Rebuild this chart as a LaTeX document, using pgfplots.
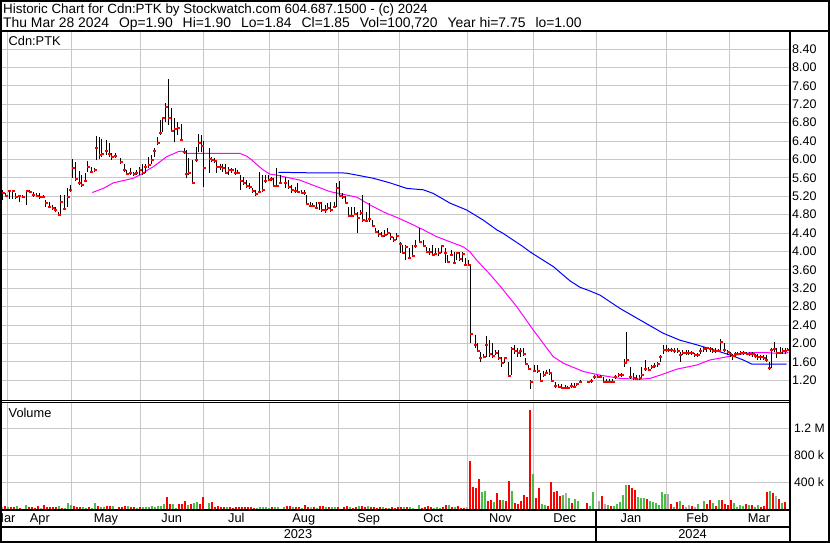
\documentclass[border=0pt]{standalone}
\usepackage{fontspec}
\setmainfont{Liberation Sans}
\usepackage{pgfplots}
\usepackage{pgfplotstable}
\pgfplotsset{compat=1.18}

\definecolor{gridgray}{RGB}{200,200,200}
\definecolor{volred}{RGB}{255,0,0}
\definecolor{volgreen}{RGB}{76,187,71}
\definecolor{volgray}{RGB}{170,170,170}
\definecolor{maline}{RGB}{255,0,255}
\definecolor{blueline}{RGB}{0,0,255}

% daily bars: x = position on the trading-day axis, h/l/c = high, low, close
\pgfplotstableread{
x h l c
2.7 5.34 5.12 5.28
6.0 5.26 5.18 5.20
9.3 5.34 5.15 5.32
12.7 5.34 5.15 5.31
16.0 5.26 5.15 5.19
19.3 5.23 5.08 5.21
22.7 5.23 5.18 5.19
26.7 5.34 5.01 5.32
30.0 5.34 5.28 5.30
33.3 5.30 5.19 5.23
36.7 5.26 5.19 5.21
40.0 5.26 5.15 5.19
43.3 5.23 5.17 5.19
46.0 5.12 4.97 5.06
49.0 5.08 4.94 4.97
52.3 5.01 4.91 4.95
55.0 4.97 4.86 4.90
58.3 4.86 4.77 4.79
60.7 5.23 4.79 5.08
64.0 5.23 4.90 4.92
67.3 5.37 4.97 5.19
70.0 5.44 5.30 5.34
72.7 6.00 5.59 5.81
75.7 5.94 5.52 5.57
79.0 5.75 5.44 5.49
81.7 5.66 5.41 5.44
85.0 5.70 5.52 5.54
87.7 5.97 5.73 5.84
91.0 5.84 5.70 5.73
94.3 5.81 5.72 5.76
96.0 6.51 5.99 6.24
99.3 6.48 6.00 6.10
101.7 6.44 6.06 6.11
106.0 6.42 6.10 6.19
109.0 6.35 6.06 6.12
111.7 6.15 5.99 6.05
115.0 6.13 6.02 6.07
120.7 6.02 5.91 5.95
124.0 5.91 5.73 5.78
126.7 5.77 5.66 5.68
130.0 5.81 5.66 5.71
133.3 5.73 5.64 5.68
136.0 5.76 5.66 5.70
139.3 5.84 5.66 5.77
142.3 5.91 5.66 5.71
145.0 5.90 5.70 5.84
148.3 6.06 5.81 5.88
151.7 6.10 5.91 5.99
154.0 6.24 6.06 6.19
157.3 6.49 6.31 6.36
160.0 6.86 6.53 6.57
162.7 6.93 6.60 6.89
165.7 7.23 6.82 7.15
168.3 7.75 6.75 6.89
171.7 7.11 6.60 6.62
174.3 6.89 6.37 6.66
177.7 6.82 6.53 6.68
181.0 6.78 6.39 6.42
184.0 6.24 6.12 6.16
186.0 6.20 5.59 5.68
188.7 6.02 5.66 5.71
192.3 5.99 5.47 5.49
196.0 6.28 5.95 5.99
198.7 6.55 6.17 6.35
201.7 6.53 6.17 6.29
203.3 6.39 5.41 5.82
209.3 6.24 5.70 6.00
211.7 6.06 5.95 5.99
214.3 6.02 5.93 5.97
216.7 5.95 5.71 5.84
220.0 5.90 5.78 5.84
222.7 5.91 5.73 5.81
225.7 5.90 5.70 5.71
228.3 5.84 5.66 5.77
231.7 5.81 5.70 5.77
235.0 5.81 5.66 5.71
237.7 5.76 5.68 5.71
240.7 5.66 5.34 5.53
243.3 5.62 5.44 5.49
246.7 5.55 5.37 5.42
249.3 5.48 5.35 5.39
252.3 5.37 5.26 5.31
255.7 5.34 5.20 5.24
259.0 5.73 5.26 5.30
262.3 5.66 5.30 5.34
265.0 5.66 5.48 5.54
268.3 5.66 5.52 5.55
271.0 5.62 5.54 5.57
273.3 5.59 5.41 5.42
276.7 5.81 5.39 5.42
280.0 5.66 5.47 5.49
285.0 5.62 5.37 5.49
288.3 5.55 5.35 5.39
291.7 5.44 5.26 5.34
295.0 5.41 5.26 5.32
297.7 5.48 5.26 5.30
301.7 5.34 5.26 5.28
304.0 5.34 5.23 5.26
306.7 5.23 5.01 5.03
310.0 5.08 4.97 4.99
312.7 5.05 4.97 4.99
316.0 5.08 4.94 4.95
319.0 5.08 4.90 5.05
321.7 5.08 4.86 4.90
325.0 5.01 4.83 4.89
327.7 5.05 4.90 4.95
330.7 5.08 4.86 4.90
334.0 5.08 4.94 4.97
336.7 5.48 4.97 5.37
339.3 5.52 5.19 5.20
342.7 5.26 5.15 5.19
345.7 5.20 5.03 5.06
348.3 4.97 4.76 4.78
351.7 4.97 4.76 4.78
354.3 4.97 4.79 4.81
357.7 4.86 4.39 4.73
360.7 4.90 4.79 4.83
362.7 5.23 4.65 4.68
366.0 4.86 4.65 4.67
369.0 5.05 4.65 4.70
372.3 4.68 4.52 4.55
375.7 4.50 4.39 4.43
378.3 4.47 4.32 4.38
381.7 4.43 4.31 4.34
384.3 4.47 4.32 4.36
387.7 4.50 4.36 4.41
390.7 4.39 4.25 4.32
393.3 4.32 4.21 4.25
396.7 4.39 4.25 4.34
400.0 4.21 3.96 4.16
402.7 4.14 3.94 3.97
405.7 4.14 3.81 4.09
409.0 4.07 3.83 3.85
412.3 4.14 3.87 3.90
415.0 4.25 4.07 4.12
419.3 4.50 4.18 4.21
423.3 4.25 4.09 4.12
426.7 4.10 3.96 3.99
429.3 4.07 3.92 3.99
432.3 4.14 3.90 3.92
435.0 4.07 3.92 3.94
438.3 4.07 3.90 3.96
441.7 4.14 3.96 4.12
445.0 4.07 3.74 3.96
447.3 3.92 3.74 3.78
451.0 4.03 3.89 3.92
454.0 3.99 3.72 3.74
456.7 3.99 3.81 3.96
459.3 3.99 3.80 3.83
462.3 3.99 3.78 3.94
465.0 3.85 3.68 3.70
468.3 3.81 3.68 3.70
470.7 3.72 2.00 2.20
475.0 2.18 1.89 1.97
477.7 2.00 1.82 1.84
480.0 1.82 1.59 1.68
483.3 1.77 1.68 1.71
486.0 2.16 1.71 1.97
489.3 2.07 1.71 1.77
492.3 2.00 1.68 1.73
495.7 1.86 1.75 1.80
498.3 1.86 1.64 1.68
501.7 1.71 1.49 1.58
504.3 1.71 1.57 1.69
508.3 1.60 1.28 1.30
511.7 1.93 1.31 1.87
514.3 1.97 1.78 1.84
517.3 1.89 1.71 1.80
520.0 1.91 1.71 1.84
523.3 1.89 1.73 1.76
525.7 1.68 1.53 1.55
528.3 1.53 1.42 1.44
530.7 1.20 1.00 1.17
534.0 1.53 1.39 1.41
537.3 1.53 1.35 1.39
540.7 1.36 1.17 1.19
543.3 1.39 1.28 1.31
546.0 1.42 1.33 1.36
549.3 1.44 1.31 1.36
551.7 1.35 1.17 1.19
555.0 1.17 1.04 1.07
558.3 1.12 1.04 1.06
561.7 1.12 1.02 1.04
565.0 1.10 1.02 1.04
567.7 1.07 1.00 1.02
571.0 1.13 1.04 1.07
574.0 1.13 1.04 1.06
576.7 1.15 1.07 1.12
580.0 1.20 1.13 1.17
587.7 1.19 1.13 1.17
591.0 1.22 1.15 1.19
594.0 1.31 1.22 1.26
597.3 1.31 1.24 1.28
600.0 1.31 1.24 1.26
603.3 1.28 1.13 1.17
606.7 1.22 1.13 1.17
609.3 1.22 1.13 1.17
612.7 1.22 1.13 1.17
615.0 1.31 1.22 1.28
618.3 1.35 1.28 1.31
621.7 1.36 1.28 1.31
624.3 1.67 1.49 1.58
626.7 2.25 1.57 1.65
630.0 1.48 1.22 1.26
633.3 1.35 1.20 1.24
636.0 1.31 1.20 1.22
639.3 1.31 1.20 1.24
641.7 1.49 1.28 1.31
645.0 1.64 1.39 1.44
648.3 1.49 1.39 1.42
651.7 1.53 1.44 1.48
654.0 1.57 1.46 1.51
657.3 1.60 1.49 1.55
660.0 1.75 1.60 1.71
663.3 1.97 1.78 1.86
666.0 1.97 1.82 1.86
668.3 1.89 1.82 1.86
671.0 1.89 1.82 1.86
674.0 1.89 1.80 1.83
677.3 1.89 1.80 1.84
680.0 1.82 1.60 1.75
682.7 1.86 1.75 1.80
686.0 1.86 1.75 1.80
688.3 1.86 1.75 1.80
691.7 1.84 1.75 1.80
694.3 1.80 1.71 1.75
697.3 1.80 1.71 1.75
700.0 1.89 1.78 1.84
703.3 1.93 1.82 1.87
706.7 1.93 1.82 1.89
710.0 1.93 1.82 1.87
712.7 1.89 1.80 1.84
715.7 1.89 1.80 1.84
718.3 1.87 1.81 1.84
720.7 2.09 1.82 2.04
724.0 2.00 1.82 1.86
727.3 1.86 1.75 1.82
730.0 1.82 1.70 1.77
732.7 1.78 1.65 1.73
735.0 1.82 1.71 1.77
737.3 1.82 1.75 1.78
740.7 1.84 1.75 1.80
743.3 1.84 1.75 1.80
746.7 1.82 1.75 1.78
749.3 1.82 1.73 1.78
752.3 1.82 1.71 1.77
755.0 1.78 1.68 1.73
757.7 1.77 1.65 1.71
760.7 1.75 1.65 1.70
763.3 1.75 1.64 1.68
766.0 1.75 1.60 1.65
769.0 1.60 1.42 1.46
771.0 1.89 1.46 1.86
774.0 2.04 1.82 1.87
776.7 1.89 1.68 1.80
780.0 1.93 1.77 1.80
782.7 1.89 1.78 1.83
785.0 1.89 1.78 1.84
787.7 1.90 1.84 1.85
}\price

% moving averages
\pgfplotstableread{
x m
92.3 5.28
103.3 5.37
113.3 5.49
123.3 5.54
133.3 5.59
143.3 5.70
148.3 5.78
153.3 5.84
160.0 5.95
166.7 6.06
173.3 6.12
178.3 6.17
181.7 6.18
186.7 6.13
190.0 6.13
240.0 6.13
246.7 6.07
251.7 5.99
256.7 5.89
263.3 5.77
270.0 5.68
276.7 5.66
286.7 5.61
300.0 5.55
303.3 5.52
316.7 5.41
330.0 5.30
343.3 5.24
356.7 5.18
370.0 5.01
383.3 4.86
396.7 4.74
410.0 4.61
423.3 4.47
436.7 4.32
450.0 4.21
463.3 4.10
470.0 3.99
476.7 3.81
490.0 3.50
500.0 3.25
510.0 2.98
516.7 2.80
533.3 2.29
543.3 2.00
553.3 1.71
563.3 1.57
583.3 1.39
600.0 1.31
620.0 1.24
640.0 1.22
650.0 1.24
660.0 1.31
676.7 1.44
696.7 1.53
710.0 1.64
720.0 1.68
736.7 1.75
750.0 1.80
766.7 1.80
780.0 1.78
788.3 1.80
}\mashort

\pgfplotstableread{
x m
278.3 5.72
306.7 5.71
340.0 5.71
346.7 5.70
356.7 5.66
373.3 5.59
390.0 5.49
406.7 5.37
423.3 5.34
433.3 5.26
450.0 5.05
466.7 4.90
483.3 4.68
496.7 4.47
503.3 4.39
523.3 4.10
530.0 3.99
553.3 3.67
570.0 3.36
580.0 3.22
590.0 3.14
600.0 3.05
620.0 2.76
640.0 2.51
663.3 2.22
680.0 2.07
696.7 1.97
713.3 1.86
730.0 1.75
743.3 1.64
751.7 1.55
786.7 1.55
}\malong

% volume in thousands of shares, split by bar colour
\pgfplotstableread{
x v
4.7 49
10.7 35
13.7 35
19.7 20
22.7 10
28.7 35
31.7 35
34.7 20
37.7 49
43.7 64
46.7 35
49.7 35
52.7 35
55.7 35
61.7 20
73.7 49
76.7 35
79.7 35
88.7 35
97.7 49
106.7 49
109.7 49
118.7 35
121.7 35
124.7 49
130.7 35
133.7 35
139.7 35
166.7 183
169.7 79
178.7 79
181.7 79
184.7 124
190.7 79
199.7 79
202.7 183
211.7 109
214.7 35
217.7 49
220.7 35
223.7 35
229.7 35
232.7 20
235.7 35
238.7 35
241.7 35
244.7 35
247.7 35
250.7 35
253.7 20
271.7 35
286.7 49
289.7 49
295.7 35
298.7 35
304.7 64
307.7 35
313.7 35
319.7 49
322.7 49
328.7 35
337.7 35
343.7 35
346.7 49
352.7 20
355.7 35
361.7 49
364.7 35
370.7 35
373.7 35
376.7 20
379.7 35
385.7 20
391.7 35
394.7 20
397.7 35
400.7 35
406.7 35
421.7 20
424.7 35
427.7 49
430.7 35
442.7 35
445.7 64
451.7 35
457.7 49
460.7 20
463.7 20
469.7 715
472.7 330
475.7 316
478.7 449
487.7 123
490.7 138
496.7 241
499.7 138
505.7 123
508.7 419
514.7 93
517.7 79
520.7 123
523.7 212
526.7 182
529.7 1471
535.7 167
538.7 316
547.7 49
550.7 404
553.7 256
556.7 271
559.7 197
571.7 93
586.7 93
601.7 198
610.7 49
628.7 361
631.7 316
634.7 287
646.7 153
670.7 79
676.7 109
682.7 64
691.7 49
706.7 79
709.7 138
715.7 49
721.7 138
724.7 79
727.7 64
730.7 138
745.7 79
751.7 64
760.7 35
763.7 49
766.7 257
772.7 242
778.7 153
784.7 109
}\volred

\pgfplotstableread{
x v
7.7 35
16.7 49
25.7 64
58.7 49
64.7 20
67.7 94
70.7 64
82.7 35
85.7 20
91.7 20
94.7 94
100.7 35
103.7 35
112.7 49
127.7 49
136.7 20
142.7 35
145.7 35
148.7 35
151.7 49
154.7 35
157.7 49
160.7 49
163.7 79
172.7 79
175.7 20
187.7 64
193.7 94
196.7 109
208.7 94
226.7 35
256.7 20
259.7 35
262.7 35
265.7 35
268.7 20
274.7 35
277.7 35
283.7 35
292.7 35
301.7 20
316.7 20
325.7 35
331.7 35
334.7 35
349.7 35
358.7 49
367.7 49
382.7 35
388.7 20
403.7 35
409.7 35
412.7 20
418.7 64
433.7 20
436.7 35
439.7 20
448.7 64
454.7 35
481.7 256
484.7 271
493.7 108
502.7 138
511.7 271
532.7 523
541.7 79
544.7 64
562.7 212
568.7 167
574.7 153
577.7 123
589.7 49
592.7 257
607.7 64
613.7 49
616.7 79
619.7 109
622.7 212
625.7 361
637.7 183
640.7 168
643.7 168
649.7 124
652.7 109
655.7 94
658.7 64
661.7 257
664.7 227
673.7 35
679.7 124
697.7 79
703.7 124
712.7 94
718.7 138
733.7 94
736.7 35
739.7 64
742.7 49
748.7 64
754.7 35
757.7 64
769.7 272
781.7 94
}\volgreen

\pgfplotstableread{
x v
1.7 35
40.7 20
310.7 35
466.7 35
565.7 241
598.7 124
604.7 79
667.7 227
685.7 35
688.7 64
694.7 35
775.7 198
}\volgray

\pgfplotsset{
  panel/.style={
    anchor=south west, scale only axis, width=787pt,
    xmin=2, xmax=789,
    axis line style={draw=none},
    major tick length=0pt, tick style={draw=none},
    xtick={8,71.7,140.3,203.3,269.3,338.3,399,467.7,533.3,596,666,729},
    xticklabels={},
    yticklabel pos=right,
    yticklabel style={anchor=west, inner sep=0pt, xshift=3pt,
      font=\fontsize{12.5}{14}\selectfont},
    grid=major, grid style={gridgray, line width=1pt},
  },
}

\newcommand{\lbl}{\fontsize{12.8}{14}\selectfont}

\begin{document}
\begin{tikzpicture}[x=1pt,y=1pt]
\useasboundingbox (0,0) rectangle (830,543);
\fill[white] (0,0) rectangle (830,543);

% price panel
\begin{axis}[panel, at={(2pt,143pt)}, height=368pt,
  ymin=0.77, ymax=8.77,
  ytick={1.2,1.6,2.0,2.4,2.8,3.2,3.6,4.0,4.4,4.8,5.2,5.6,6.0,6.4,6.8,7.2,7.6,8.0,8.4},
  yticklabels={1.20,1.60,2.00,2.40,2.80,3.20,3.60,4.00,4.40,4.80,5.20,5.60,6.00,6.40,6.80,7.20,7.60,8.00,8.40},
]
\addplot[maline, line width=1pt] table[x=x, y=m] {\mashort};
\addplot[blueline, line width=1pt] table[x=x, y=m] {\malong};
\addplot[only marks, mark=-, mark size=1.5pt,
  mark options={draw=red, line width=2pt, xshift=0.7pt},
  error bars/.cd, y dir=both, y explicit, error mark=none,
  error bar style={draw=black, line width=1pt}]
  table[x=x, y=c,
    y error plus expr=\thisrow{h}-\thisrow{c},
    y error minus expr=\thisrow{c}-\thisrow{l}] {\price};
\end{axis}

% volume panel
\begin{axis}[panel, at={(2pt,33.7pt)}, height=106.8pt,
  ymin=0, ymax=1582,
  ytick={400,800,1200}, yticklabels={400 k,800 k,1.2 M},
  yticklabel style={xshift=2pt, font=\fontsize{12.2}{14}\selectfont},
]
\addplot[ycomb, volred, line width=2pt] table[x=x, y=v] {\volred};
\addplot[ycomb, volgreen, line width=2pt] table[x=x, y=v] {\volgreen};
\addplot[ycomb, volgray, line width=2pt] table[x=x, y=v] {\volgray};
\end{axis}

% frame and separators
\draw[line width=2.5pt] (0,512.2) -- (830,512.2);
\draw[line width=2pt] (789.5,512) -- (789.5,0);
\draw[line width=0.9pt] (0,142.7) -- (789,142.7);
\draw[line width=0.9pt] (0,140.8) -- (789,140.8);
\draw[line width=1.7pt] (0,33) -- (789,33);
\draw[line width=1.7pt] (0,16.2) -- (789,16.2);
\draw[line width=1.2pt] (596,33) -- (596,0);
\draw[line width=2pt] (1,1) rectangle (829,542);

% header
\node[anchor=base west, inner sep=0pt, font=\fontsize{13.4}{15}\selectfont] at (3,529.7)
  {Historic Chart for Cdn:PTK by Stockwatch.com 604.687.1500 - (c) 2024};
\node[anchor=base west, inner sep=0pt, font=\fontsize{13.9}{15}\selectfont] at (3,515.7)
  {Thu Mar 28 2024\hspace{10pt}Op=1.90\hspace{10pt}Hi=1.90\hspace{10pt}Lo=1.84\hspace{10pt}Cl=1.85\hspace{10pt}Vol=100,720\hspace{10pt}Year hi=7.75\hspace{10pt}lo=1.00};

\node[anchor=base west, inner sep=0pt, font=\lbl] at (8.5,497.3) {Cdn:PTK};
\node[anchor=base west, inner sep=0pt, font=\lbl] at (8.5,125.3) {Volume};

% month and year labels
\foreach \mx/\mn in {4.4/Mar,39.9/Apr,106/May,171.8/Jun,236.3/Jul,303.8/Aug,368.7/Sep,433.3/Oct,500.5/Nov,564.7/Dec,631/Jan,697.5/Feb,759/Mar}
  \node[anchor=base, inner sep=0pt, font=\lbl] at (\mx,20.3) {\mn};
\node[anchor=base, inner sep=0pt, font=\lbl] at (298,4) {2023};
\node[anchor=base, inner sep=0pt, font=\lbl] at (692.5,4) {2024};
\end{tikzpicture}
\end{document}
